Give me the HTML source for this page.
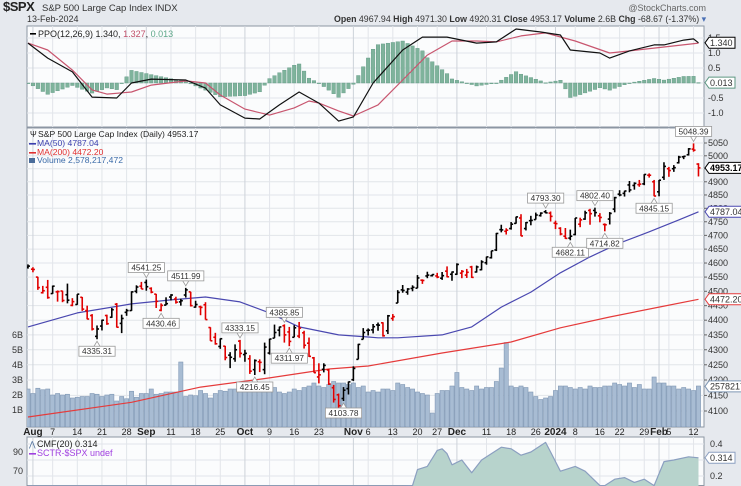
<!DOCTYPE html>
<html><head><meta charset="utf-8"><style>
html,body{margin:0;padding:0;background:#e6e9ee;width:741px;height:486px;overflow:hidden;}
svg{display:block;font-family:"Liberation Sans",sans-serif;}
</style></head><body>
<svg id="chart" width="741" height="486" viewBox="0 0 741 486" xmlns="http://www.w3.org/2000/svg">
<defs>
<clipPath id="cTop"><rect x="27" y="26" width="677" height="101"/></clipPath>
<clipPath id="cMain"><rect x="27" y="128" width="677" height="299"/></clipPath>
<clipPath id="cBot"><rect x="27" y="437" width="677" height="49"/></clipPath>
</defs>
<rect x="0" y="0" width="741" height="486" fill="#e6e9ee"/>
<text x="3" y="11" font-size="13" font-weight="bold" fill="#222" letter-spacing="-0.5">$SPX</text>
<text x="42" y="11" font-size="9.5" fill="#333">S&amp;P 500 Large Cap Index  INDX</text>
<text x="27" y="22" font-size="9" fill="#333">13-Feb-2024</text>
<text x="706" y="11" font-size="9" fill="#666" text-anchor="end">@StockCharts.com</text>
<text x="706" y="22" font-size="8.8" fill="#333" text-anchor="end"><tspan font-weight="bold">Open</tspan> 4967.94 <tspan font-weight="bold">High</tspan> 4971.30 <tspan font-weight="bold">Low</tspan> 4920.31 <tspan font-weight="bold">Close</tspan> 4953.17 <tspan font-weight="bold">Volume</tspan> 2.6B <tspan font-weight="bold">Chg</tspan> -68.67 (-1.37%) <tspan fill="#4a6fb5">▾</tspan></text>
<rect x="27" y="26" width="677" height="101" fill="#fbfcfd" stroke="#8c96a3"/>
<rect x="27" y="128" width="677" height="299" fill="#fbfcfd" stroke="#8c96a3"/>
<rect x="27" y="437" width="677" height="48.5" fill="#fbfcfd" stroke="#8c96a3"/>
<g id="grid"></g>
<g id="vol" clip-path="url(#cMain)"></g>
<g id="mas" clip-path="url(#cMain)"></g>
<g id="bars" clip-path="url(#cMain)"></g>
<g id="ppo" clip-path="url(#cTop)"></g>
<g id="cmf" clip-path="url(#cBot)"></g>
<g id="labels"></g>
<text x="38" y="37" font-size="9" fill="#222">PPO(12,26,9) 1.340, <tspan fill="#c0506a">1.327</tspan>, <tspan fill="#5fa88a">0.013</tspan></text>
<rect x="30" y="33" width="6" height="1.6" fill="#000"/>
<text x="38" y="137" font-size="8.6" fill="#222">S&amp;P 500 Large Cap Index (Daily) 4953.17</text>
<text x="30" y="137" font-size="8" fill="#222">Ψ</text>
<rect x="29" y="143" width="7" height="1.6" fill="#3b3fae"/>
<text x="37" y="146" font-size="8.6" fill="#3b3fae">MA(50) 4787.04</text>
<rect x="29" y="152" width="7" height="1.6" fill="#e03030"/>
<text x="37" y="155" font-size="8.6" fill="#e03030">MA(200) 4472.20</text>
<rect x="29" y="158" width="6" height="5" fill="#4a6c9a"/>
<text x="37" y="163" font-size="8.6" fill="#3a6aa8">Volume 2,578,217,472</text>
<text x="37" y="447" font-size="9" fill="#222">CMF(20) 0.314</text>
<text x="29" y="447" font-size="8" fill="#4a6c9a">⋀</text>
<rect x="29" y="453" width="7" height="1.6" fill="#a040e0"/>
<text x="37" y="456" font-size="9" fill="#a040e0">SCTR-$SPX undef</text>
</svg>
<script>
const opens=[4585,
4578,4550,4495,4514,4492,4498,4501,4488,4451,4454,4479,4433,4416,4345,4380,4416,4410,4455,4389,4427,4433,4500,4518,
4531,4510,4490,4434,4452,4480,4473,4463,4487,4498,4445,4446,4453,4375,4342,4311,4312,4282,4270,4329,
4284,4270,4234,4260,4234,4289,4339,4366,4381,4360,4342,4346,4357,4322,4273,4210,4235,4233,4175,4152,4140,4172,
4201,4268,4335,4365,4367,4384,4391,4364,4406,4459,4505,4497,4510,4511,4539,4554,4555,4554,4546,4571,4560,
4560,4564,4557,4586,4568,4576,4601,4619,4647,4721,4715,4725,4744,4764,4725,4754,4758,4773,4787,4782,
4745,4726,4697,4690,4703,4741,4760,4792,4792,4772,4740,4760,4797,4853,4856,4888,4886,4889,4892,4925,4900,
4862,4917,4950,4950,4973,4996,5004,5026,4968];
const highs=[4595,
4585,4551,4519,4540,4520,4503,4502,4527,4476,4490,4480,4450,4421,4382,4402,4419,4442,4459,4419,4439,4500,4521,4533,
4541.25,4514,4491,4458,4479,4490,4481,4474,4511.99,4498,4467,4450,4462,4376,4357,4338,4313,4292,4318,4333.15,
4300,4282,4268,4268,4324,4337,4385,4378,4385.85,4377,4383,4394,4364,4341,4276,4255,4255,4236,4184,4156,4177,4195,
4245,4320,4373,4372,4387,4392,4393,4418,4421,4504,4522,4511,4521,4557,4542,4569,4560,4565,4568,4588,4570,
4599,4575,4579,4590,4591,4610,4623,4644,4709,4739,4726,4749,4769,4778,4749,4772,4784,4785,4793.30,4788,
4754,4730,4727,4721,4764,4765,4791,4798,4802.40,4782,4744,4786,4843,4868,4866,4903,4898,4907,4929,4932,4907,
4907,4975,4957,4964,5000,5000,5030,5048.39,4971.30];
const lows=[4580,
4567,4505,4492,4474,4491,4464,4462,4458,4448,4453,4432,4403,4365,4335.31,4365,4384,4408,4375,4356,4415,4432,4493,4508,
4502,4493,4442,4430.46,4451,4468,4457,4450,4478,4447,4443,4417,4402,4330,4317,4303,4265,4239,4260,4274,
4260,4220,4216.45,4226,4219,4284,4339,4345,4324,4311.97,4342,4339,4304,4276,4224,4189,4225,4184,4127,4103.78,4132,4153,
4197,4268,4335,4348,4355,4364,4344,4353,4398,4459,4495,4488,4500,4511,4526,4546,4552,4546,4540,4549,4537,
4558,4546,4547,4547,4566,4574,4594,4616,4643,4711,4703,4721,4743,4697,4718,4737,4758,4769,4781,4751,
4723,4700,4687,4682.11,4700,4730,4757,4739,4769,4748,4714.82,4740,4785,4845,4844,4860,4870,4881,4887,4916,4845.15,
4845,4907,4919,4938,4970,4987,5001,5016,4920.31];
const closes=[4589,
4577,4513,4502,4478,4518,4499,4468,4469,4464,4490,4438,4404,4370,4370,4400,4388,4436,4376,4406,4433,4498,4515,4508,
4516,4497,4465,4451,4457,4487,4462,4467,4505,4450,4454,4444,4402,4330,4320,4337,4274,4275,4300,4288,
4288,4229,4264,4258,4309,4336,4358,4377,4350,4328,4374,4373,4315,4278,4224,4217,4248,4187,4137,4117,4167,4194,
4238,4318,4358,4366,4378,4383,4347,4415,4412,4496,4503,4508,4514,4547,4538,4557,4559,4550,4555,4551,4568,
4595,4570,4567,4549,4586,4604,4622,4644,4707,4720,4719,4741,4768,4698,4747,4755,4775,4782,4783,4770,
4743,4705,4689,4697,4764,4757,4783,4780,4784,4766,4739,4781,4840,4850,4865,4869,4894,4891,4928,4925,4846,
4906,4959,4943,4954,4995,4998,5027,5022,4953.17];
const volumes=[2.4,
2.1,2.45,2.35,2.4,2.0,2.1,2.0,2.05,1.8,1.85,1.9,1.9,2.1,2.05,1.9,2.0,2.05,1.6,1.9,1.75,2.25,1.85,2.1,
2.1,2.4,2.05,2.1,2.2,2.2,2.2,4.2,1.9,2.0,1.95,2.3,2.1,1.8,2.1,2.3,2.25,2.4,2.4,2.6,
2.3,2.4,2.4,2.3,2.2,2.3,2.5,2.2,2.1,2.2,2.4,2.3,2.5,2.6,2.8,2.6,2.5,2.7,2.9,2.8,2.8,2.7,
2.8,2.5,2.6,2.2,2.3,2.2,2.4,2.4,2.3,2.8,2.7,2.5,2.4,2.2,2.1,2.0,0.8,2.1,2.3,2.3,2.6,
3.5,2.5,2.4,2.3,2.6,2.4,2.5,2.5,2.9,3.8,5.5,2.6,2.5,2.6,2.5,2.2,1.9,1.7,1.8,1.9,
2.3,2.6,2.6,2.5,2.4,2.5,2.4,2.6,2.5,2.5,2.6,2.6,2.8,2.7,2.6,2.8,2.5,2.7,2.4,2.4,3.2,
2.8,2.8,2.6,2.6,2.4,2.5,2.4,2.3,2.6];
const ma50Idx=[0,10,21,29,36,43,49,55,63,69,71,75,84,90,96,102,108,114,120,126,132,136];
const ma50Vals=[4377,4425,4456,4470,4480,4463,4425,4377,4350,4343,4340,4340,4350,4377,4445,4497,4565,4622,4672,4713,4757,4787.04];
const ma200Idx=[0,21,35,49,61,69,84,98,108,118,128,136];
const ma200Vals=[4081,4128,4177,4207,4236,4246,4289,4326,4374,4411,4445,4472.20];
const ppoIdx=[0,4,9,13,18,21,25,32,36,39,44,47,51,55,59,63,66,70,76,80,85,91,95,99,104,108,110,116,118,122,127,129,133,135,136];
const ppoVals=[1.33,0.83,0.37,-0.47,-0.5,0,0.13,0.1,-0.17,-0.73,-1.17,-1.2,-0.73,-0.3,-0.67,-1.27,-1.13,0,1.1,1.53,1.53,1.33,1.37,1.8,1.7,1.6,1.1,1.0,0.83,1.07,1.27,1.27,1.43,1.47,1.34];
const sigIdx=[0,4,9,13,16,21,25,32,36,39,44,49,54,57,59,63,66,71,76,81,86,91,95,100,105,111,118,122,129,136];
const sigVals=[1.33,1.1,0.43,-0.23,-0.37,-0.3,-0.07,0.07,0,-0.4,-0.87,-1.07,-0.83,-0.6,-0.67,-0.93,-1.1,-0.73,0.1,0.93,1.4,1.4,1.37,1.57,1.67,1.4,1.0,1.07,1.2,1.33];
const cmfIdx=[0,40,70,76,78,79,81,83,84,85,86,88,90,92,96,98,100,102,105,106,108,111,113,116,117,119,121,123,125,127,129,131,134,136];
const cmfVals=[-0.05,-0.1,0.02,0.1,0.14,0.24,0.26,0.36,0.37,0.34,0.27,0.30,0.22,0.30,0.38,0.37,0.33,0.35,0.41,0.35,0.23,0.26,0.23,0.14,0.14,0.18,0.19,0.16,0.18,0.14,0.29,0.30,0.32,0.314];
const dateIdx=[1,5,10,15,20,24,29,34,39,44,49,54,59,66,69,74,79,83,87,93,98,103,107,111,116,120,125,128,130,135];
const dateLabels=["Aug","7","14","21","28","Sep","11","18","25","Oct","9","16","23","Nov","6","13","20","27","Dec","11","18","26","2024","8","16","22","29","Feb","5","12"];
const dateMajor=[1,0,0,0,0,1,0,0,0,1,0,0,0,1,0,0,0,0,1,0,0,0,1,0,0,0,0,1,0,0];
const priceTicks=[4100,4150,4200,4250,4300,4350,4400,4450,4500,4550,4600,4650,4700,4750,4800,4850,4900,4950,5000,5050];
const volTicks=[1,2,3,4,5,6];
const ppoTicks=[1.5,1.0,0.5,-0.5,-1.0];
const annIdx=[24,14,32,27,43,46,52,53,64,105,110,115,117,127,135];
const annSide=["up","down","up","down","up","down","up","down","down","up","down","up","down","down","up"];
const annText=["4541.25","4335.31","4511.99","4430.46","4333.15","4216.45","4385.85","4311.97","4103.78","4793.30","4682.11","4802.40","4714.82","4845.15","5048.39"];

const NS="http://www.w3.org/2000/svg";
function mk(parent,tag,attrs){const e=document.createElementNS(NS,tag);for(const k in attrs)e.setAttribute(k,attrs[k]);parent.appendChild(e);return e;}
const X=i=>28+i*4.93;
const LT=Math.log(5050);
const yP=p=>143+(LT-Math.log(p))*1286;
const yV=v=>425-v*15;
const yPPO=v=>83-v*30;
const yCMF=v=>Math.min(486,508-v*160);
function interp(ix,vals,i){if(i<=ix[0])return vals[0];for(let k=1;k<ix.length;k++){if(i<=ix[k]){const t=(i-ix[k-1])/(ix[k]-ix[k-1]);return vals[k-1]+t*(vals[k]-vals[k-1]);}}return vals[vals.length-1];}

const G=document.getElementById('grid'),VG=document.getElementById('vol'),MG=document.getElementById('mas'),BG=document.getElementById('bars'),PG=document.getElementById('ppo'),CG=document.getElementById('cmf'),LG=document.getElementById('labels');

priceTicks.forEach(p=>{const y=yP(p);
 const l=mk(G,'line',{x1:27,x2:704,y1:y,y2:y,stroke:'#e2e5ea','stroke-width':1});
 
 
 const t=mk(G,'text',{x:708,y:y+3,'font-size':9,fill:'#333'});t.textContent=p;
 
 
 const k=mk(G,'line',{x1:704,x2:707,y1:y,y2:y,stroke:'#666'});
 
 
});
volTicks.forEach(v=>{const y=yV(v);
 const t=mk(G,'text',{x:23,y:y+3,'font-size':9,fill:'#333','text-anchor':'end'});t.textContent=v+'B';
 
 
});
[1.5,1.0,0.5,0,-0.5,-1.0].forEach(v=>{const y=yPPO(v);
 const l=mk(G,'line',{x1:27,x2:704,y1:y,y2:y,stroke:'#e2e5ea'});
 
 
});
ppoTicks.forEach(v=>{const y=yPPO(v);
 const t=mk(G,'text',{x:708,y:y+3,'font-size':9,fill:'#333'});t.textContent=v.toFixed(1);
 
 
});
[0.4,0.3,0.2].forEach(v=>{const y=yCMF(v);
 const l=mk(G,'line',{x1:27,x2:704,y1:y,y2:y,stroke:'#e2e5ea'});
 
 
});
[0.4,0.2].forEach(v=>{const y=yCMF(v);
 const t=mk(G,'text',{x:710,y:y+3,'font-size':9,fill:'#333'});t.textContent=v.toFixed(1);
 
 
});
[[90,452],[70,471]].forEach(a=>{
 const t=mk(G,'text',{x:23,y:a[1]+3,'font-size':9,fill:'#333','text-anchor':'end'});t.textContent=a[0];
 
 
});
dateIdx.forEach((d,k)=>{const x=X(d);
 [[26,127],[128,427],[437,485]].forEach(r=>{
  const l=mk(G,'line',{x1:x,x2:x,y1:r[0],y2:r[1],stroke:dateMajor[k]?'#cdd2d9':'#e2e5ea'});
  
  
 });
 const t=mk(G,'text',{x:x,y:435,'font-size':dateMajor[k]?10:9,'font-weight':dateMajor[k]?'bold':'normal',fill:'#222','text-anchor':'middle'});t.textContent=dateLabels[k];
 
 
});
volumes.forEach((v,i)=>{const y=yV(v);
 const r=mk(VG,'rect',{x:X(i)-2.1,y:y,width:4.2,height:427-y,fill:'#a8bcd3',stroke:'#7f97b4','stroke-width':0.6});
 
 
});
function poly(g,ix,vals,yf,color,name){let d='';ix.forEach((i,k)=>{d+=(k?'L':'M')+X(i).toFixed(1)+' '+yf(vals[k]).toFixed(1);});
 const p=mk(g,'path',{d:d,fill:'none',stroke:color,'stroke-width':1.2,'stroke-linejoin':'round'});
 
 
}
poly(MG,ma200Idx,ma200Vals,yP,'#e53b3b','ma200-line');
poly(MG,ma50Idx,ma50Vals,yP,'#4a48b0','ma50-line');
closes.forEach((c,i)=>{const x=X(i);const col=(i>0&&c<closes[i-1])?'#e00000':'#000';
 const g=mk(BG,'g',{stroke:col,'stroke-width':1.6});
 
 
 mk(g,'line',{x1:x,x2:x,y1:yP(highs[i]),y2:yP(lows[i])});
 mk(g,'line',{x1:x-2,x2:x,y1:yP(opens[i]),y2:yP(opens[i])});
 mk(g,'line',{x1:x,x2:x+2,y1:yP(c),y2:yP(c)});
});
annIdx.forEach((i,k)=>{const x=X(i);const up=annSide[k]==='up';const py=up?yP(highs[i])-2:yP(lows[i])+2;
 const by=up?py-15:py+5;const w=annText[k].length*4.6+4;
 const g=mk(LG,'g',{});
 
 
 mk(g,'path',{d:up?`M${x-3} ${by+10}L${x} ${py}L${x+3} ${by+10}`:`M${x-3} ${by}L${x} ${py}L${x+3} ${by}`,fill:'#fff',stroke:'#999','stroke-width':0.8});
 mk(g,'rect',{x:x-w/2,y:by,width:w,height:10,fill:'#fff',stroke:'#999','stroke-width':0.8});
 const t=mk(g,'text',{x:x,y:by+8,'font-size':8.3,fill:'#333','text-anchor':'middle'});t.textContent=annText[k];
});
closes.forEach((c,i)=>{const h=1.4*(interp(ppoIdx,ppoVals,i)-interp(sigIdx,sigVals,i));const y0=yPPO(0),y1=yPPO(h);
 const r=mk(PG,'rect',{x:X(i)-1.8,y:Math.min(y0,y1),width:3.6,height:Math.max(0.6,Math.abs(y1-y0)),fill:'#7fb39c',stroke:'#5d9681','stroke-width':0.4});
 
 
});
poly(PG,sigIdx,sigVals,yPPO,'#c8566f','ppo-signal-line');
poly(PG,ppoIdx,ppoVals,yPPO,'#111','ppo-line');
(function(){let d='M'+X(cmfIdx[0])+' 486';cmfIdx.forEach((i,k)=>{d+='L'+X(i).toFixed(1)+' '+yCMF(cmfVals[k]).toFixed(1);});d+='L'+X(cmfIdx[cmfIdx.length-1])+' 486Z';
 const a=mk(CG,'path',{d:d,fill:'#b7d3cc',stroke:'none'});
 
 
 poly(CG,cmfIdx,cmfVals,yCMF,'#8b9fc0','cmf-line');})();
function box(y,txt,color,bold,name,w){const g=mk(LG,'g',{});
 
 
 mk(g,'path',{d:`M705 ${y}L709 ${y-5.5}L${709+w} ${y-5.5}L${709+w} ${y+5.5}L709 ${y+5.5}Z`,fill:'#fff',stroke:color,'stroke-width':1});
 const t=mk(g,'text',{x:710,y:y+3.3,'font-size':9,fill:bold?'#000':'#333','font-weight':bold?'bold':'normal'});t.textContent=txt;}
box(yP(4787.04),'4787.04','#4a48b0',false,'ma50-value-box',34);
box(yP(4472.20),'4472.20','#e53b3b',false,'ma200-value-box',34);
box(yP(4953.17),'4953.17','#000',true,'last-price-box',34);
box(yV(2.578),'2578217','#7f97b4',false,'volume-value-box',34);
box(yPPO(1.34),'1.340','#000',false,'ppo-value-box',26);
box(yPPO(0.013),'0.013','#5d9681',false,'ppo-hist-value-box',26);
box(yCMF(0.314),'0.314','#8b9fc0',false,'cmf-value-box',26);
</script>
</body></html>
